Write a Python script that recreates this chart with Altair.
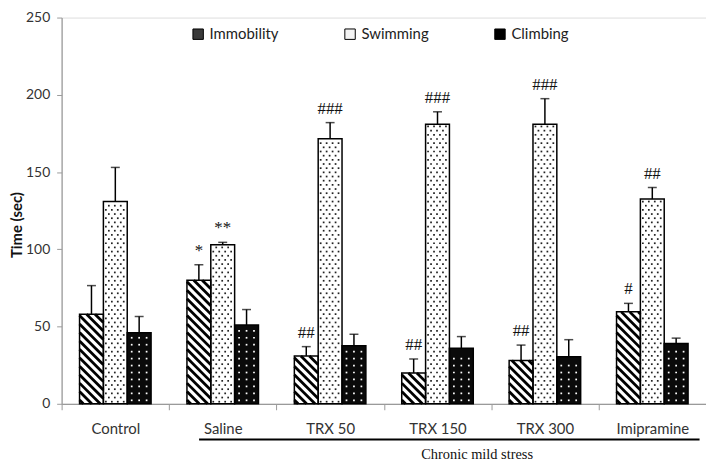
import altair as alt
import pandas as pd

# ---------------- data ----------------
groups = ["Control", "Saline", "TRX 50", "TRX 150", "TRX 300", "Imipramine"]
series = ["Immobility", "Swimming", "Climbing"]
immobility = [58, 80, 31, 20, 28, 59.5]
immobility_err = [18.5, 10, 6, 9, 10, 5.5]
swimming = [131, 103, 171.5, 181, 181, 132.5]
swimming_err = [22, 1.5, 10.5, 8, 16.5, 7.5]
climbing = [46, 51, 37.5, 36, 30.5, 39]
climbing_err = [10.5, 10, 7.5, 7.5, 11, 3.5]

sig_group = ["Saline", "Saline", "TRX 50", "TRX 50", "TRX 150", "TRX 150",
             "TRX 300", "TRX 300", "Imipramine", "Imipramine"]
sig_series = ["Immobility", "Swimming", "Immobility", "Swimming", "Immobility",
              "Swimming", "Immobility", "Swimming", "Immobility", "Swimming"]
sig_text = ["*", "**", "##", "###", "##", "###", "##", "###", "#", "##"]

stress_label = "Chronic mild stress"
stress_from, stress_to = 1.28, 5.94   # bracket under Saline..Imipramine (x units)

# ---------------- layout ----------------
W, H = 649, 389
XMAX, YMAX = 6, 250
sx, sy = W / XMAX, H / YMAX
BW = 0.222
fills = {"Immobility": "white", "Swimming": "white", "Climbing": "#0a0a0a"}
values = {"Immobility": (immobility, immobility_err),
          "Swimming": (swimming, swimming_err),
          "Climbing": (climbing, climbing_err)}

rows = []
for gi, g in enumerate(groups):
    for si, s in enumerate(series):
        v, e = values[s][0][gi], values[s][1][gi]
        c = gi + 0.5 + (si - 1) * BW
        rows.append(dict(group=g, series=s, value=v, upper=v + e, center=c,
                         left=c - BW / 2, right=c + BW / 2, zero=0, fillc=fills[s]))
bars = pd.DataFrame(rows)

# ---- texture: diagonal stripes for Immobility ----
stripe_rows = []
period = 8.5
for _, r in bars[bars.series == "Immobility"].iterrows():
    xl, xr = r.left * sx, r.right * sx
    yt, yb = H - r.value * sy, H
    cmin, cmax = yt - xr, yb - xl
    c = cmax - period * 0.45
    while c > cmin:
        xs_, xe_ = max(xl, yt - c), min(xr, yb - c)
        if xe_ > xs_:
            stripe_rows.append(dict(x=xs_ / sx, y=(H - (xs_ + c)) / sy,
                                    x2=xe_ / sx, y2=(H - (xe_ + c)) / sy))
        c -= period
stripes = pd.DataFrame(stripe_rows)


def dot_grid(sel, dx, dy, margin, stagger, color):
    out = []
    for _, r in bars[bars.series == sel].iterrows():
        xl, xr = r.left * sx, r.right * sx
        yt = H - r.value * sy
        y = H - dy / 2
        k = 0
        while y > yt + margin * 0.8:
            x = xl + margin + (dx / 2 if (stagger and k % 2) else 0)
            while x < xr - margin + 0.01:
                out.append(dict(x=x / sx, y=(H - y) / sy, col=color))
                x += dx
            y -= dy
            k += 1
    return out


dots = pd.DataFrame(dot_grid("Swimming", 6.0, 4.2, 2.5, True, "#222") +
                    dot_grid("Climbing", 7.5, 7.0, 4.5, False, "white"))

sig = pd.DataFrame(dict(group=sig_group, series=sig_series, text=sig_text))
sig = sig.merge(bars[["group", "series", "center", "upper"]], on=["group", "series"])

legend_df = pd.DataFrame(dict(series=series, v=[0, 0, 0]))

# ---------------- chart ----------------
label_arr = "[" + ",".join("'" + g + "'" for g in groups) + "]"
x_axis = alt.Axis(
    values=[i * 0.5 for i in range(13)],
    labelExpr="datum.value % 1 == 0.5 ? " + label_arr + "[floor(datum.value)] : ''",
    tickColor={"condition": {"test": "datum.value % 1 != 0", "value": "transparent"},
               "value": "#9a9a9a"},
    tickSize=6, domainColor="#9a9a9a", domainWidth=1.2, grid=False,
    labelFontSize=15, labelColor="#333", labelPadding=12, labelFont="Lato",
    labelOverlap=False, labelFlush=False, labelBound=False,
    title=stress_label, titleFont="Liberation Serif", titleFontSize=14.5,
    titleFontWeight="normal", titleColor="#111", titleX=418, titleY=55,
    titleAlign="center", titleBaseline="alphabetic",
)
y_axis = alt.Axis(
    values=[0, 50, 100, 150, 200, 250], grid=False, tickSize=5,
    tickColor="#9a9a9a", domainColor="#9a9a9a", domainWidth=1.2,
    labelFontSize=14, labelColor="#333", labelPadding=7, labelFont="Lato",
    title="Time (sec)", titleFont="Lato", titleFontSize=15, titleFontWeight="bold",
    titleColor="#111", titleX=-37, titleY=H / 2 + 14, titleAlign="center",
)
xsc = alt.Scale(domain=[0, XMAX], nice=False, zero=False)
ysc = alt.Scale(domain=[0, YMAX], nice=False)

base_fill = alt.Chart(bars).mark_rect().encode(
    x=alt.X("left:Q", scale=xsc, axis=x_axis), x2="right:Q",
    y=alt.Y("value:Q", scale=ysc, axis=y_axis), y2="zero:Q",
    fill=alt.Fill("fillc:N", scale=None),
)
stripe_layer = alt.Chart(stripes).mark_rule(strokeWidth=2.8, color="black", strokeCap="butt").encode(
    x="x:Q", y="y:Q", x2="x2:Q", y2="y2:Q")
dot_layer = alt.Chart(dots).mark_point(filled=True, size=3, opacity=1, shape="square").encode(
    x="x:Q", y="y:Q", fill=alt.Fill("col:N", scale=None))
outline = alt.Chart(bars).mark_rect(fillOpacity=0, stroke="black", strokeWidth=1.5).encode(
    x="left:Q", x2="right:Q", y="value:Q", y2="zero:Q")
err = alt.Chart(bars).mark_rule(color="black", strokeWidth=1.5).encode(
    x="center:Q", y="value:Q", y2="upper:Q")
cap = alt.Chart(bars).mark_tick(orient="horizontal", color="black", size=9, thickness=1.5).encode(
    x="center:Q", y="upper:Q")
sig_layer = alt.Chart(sig).mark_text(baseline="bottom", dy=-5, font="Liberation Serif",
                                     fontSize=17, color="#111").encode(
    x="center:Q", y="upper:Q", text="text:N")
legend_layer = alt.Chart(legend_df).mark_rect().encode(
    x=alt.X("v:Q"), x2="v:Q", y="v:Q", y2="v:Q",
    fill=alt.Fill("series:N",
                  scale=alt.Scale(domain=series, range=["#3a3a3a", "#f4f4f4", "#000"]),
                  legend=alt.Legend(orient="none", legendX=130, legendY=9, direction="horizontal",
                                    title=None, symbolType="square", symbolSize=110,
                                    symbolStrokeColor="black", symbolStrokeWidth=1,
                                    labelFont="Lato", labelFontSize=15, labelColor="#222",
                                    labelOffset=4, columnPadding=64)),
)
bracket = alt.Chart(legend_df.head(1)).mark_rule(color="black", strokeWidth=2).encode(
    x=alt.datum(stress_from), x2=alt.datum(stress_to), y=alt.value(H + 36))

chart = alt.layer(base_fill, stripe_layer, dot_layer, outline, err, cap, sig_layer,
                  legend_layer, bracket).resolve_scale(fill="independent").properties(
    width=W, height=H, autosize=alt.AutoSizeParams(type="none"),
    padding={"left": 54, "top": 8, "right": 0, "bottom": 57},
).configure_view(stroke=None).configure(background="white")

chart.save("out.html", embed_options={"renderer": "svg", "actions": False})
